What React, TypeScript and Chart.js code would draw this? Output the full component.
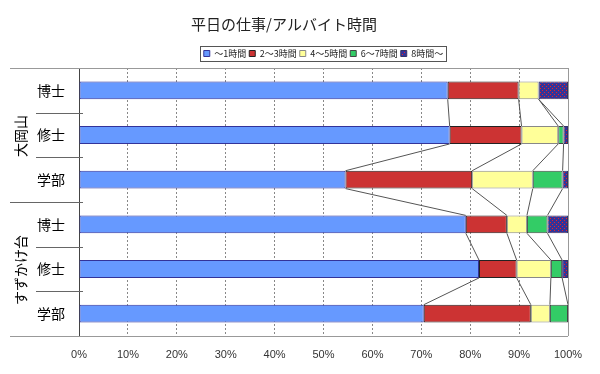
import React, { useEffect, useRef } from "react";
import { Chart, registerables } from "chart.js";

Chart.register(...registerables);

const titleText = "平日の仕事/アルバイト時間";
const groups = ["大岡山", "すずかけ台"];
const categories = ["博士", "修士", "学部", "博士", "修士", "学部"];
const seriesNames = ["～1時間", "2～3時間", "4～5時間", "6～7時間", "8時間～"];
const h0_1 = [75.4, 75.8, 54.5, 79.1, 81.8, 70.5];
const h2_3 = [14.5, 14.7, 25.9, 8.4, 7.7, 21.9];
const h4_5 = [4.1, 7.5, 12.4, 4.1, 7.0, 3.9];
const h6_7 = [0, 1.1, 6.1, 4.2, 2.3, 3.7];
const h8 = [6.0, 0.9, 1.1, 4.2, 1.2, 0];
const seriesValues = [h0_1, h2_3, h4_5, h6_7, h8];

const JP = "'Noto Sans CJK JP', 'Noto Sans', sans-serif";

function makeDotPattern(): CanvasPattern | string {
  const c = document.createElement("canvas");
  c.width = 4;
  c.height = 4;
  const g = c.getContext("2d");
  if (!g) return "#333399";
  g.fillStyle = "#333399";
  g.fillRect(0, 0, 4, 4);
  g.fillStyle = "#ee2222";
  g.fillRect(0, 0, 1, 1);
  g.fillRect(2, 2, 1, 1);
  const p = g.createPattern(c, "repeat");
  return p || "#333399";
}

const decorPlugin = {
  id: "decor",
  afterDatasetsDraw(chart: any) {
    const ctx = chart.ctx;
    const n = categories.length;
    ctx.save();
    ctx.strokeStyle = "#555";
    ctx.lineWidth = 1;
    for (let d = 0; d < seriesValues.length - 1; d++) {
      const meta = chart.getDatasetMeta(d);
      for (let i = 0; i < n - 1; i++) {
        const a = meta.data[i] as any;
        const b = meta.data[i + 1] as any;
        ctx.beginPath();
        ctx.moveTo(a.x, a.y + a.height / 2);
        ctx.lineTo(b.x, b.y - b.height / 2);
        ctx.stroke();
      }
    }
    ctx.restore();
  },
  afterDraw(chart: any) {
    const ctx = chart.ctx;
    const area = chart.chartArea;
    const y = chart.scales.y;
    const n = categories.length;
    ctx.save();
    ctx.lineWidth = 1;
    ctx.strokeStyle = "#999";
    ctx.beginPath();
    ctx.moveTo(10, Math.round(area.top) + 0.5);
    ctx.lineTo(area.right, Math.round(area.top) + 0.5);
    ctx.moveTo(10, Math.round(area.bottom) + 0.5);
    ctx.lineTo(area.right, Math.round(area.bottom) + 0.5);
    ctx.moveTo(Math.round(area.right) + 0.5, area.top);
    ctx.lineTo(Math.round(area.right) + 0.5, area.bottom);
    ctx.stroke();
    const per = n / groups.length;
    ctx.strokeStyle = "#666";
    for (let i = 0; i < n - 1; i++) {
      const yy = Math.round((y.getPixelForValue(i) + y.getPixelForValue(i + 1)) / 2) + 0.5;
      const isGroup = (i + 1) % per === 0;
      ctx.beginPath();
      ctx.moveTo(isGroup ? 10 : 36, yy);
      ctx.lineTo(area.left + 4, yy);
      ctx.stroke();
    }
    // group labels, rotated to read bottom-to-top
    ctx.fillStyle = "#000";
    ctx.font = `14px ${JP}`;
    ctx.textAlign = "center";
    ctx.textBaseline = "middle";
    groups.forEach((g, gi) => {
      const y0 = y.getPixelForValue(gi * per);
      const y1 = y.getPixelForValue(gi * per + per - 1);
      const cy = (y0 + y1) / 2 + 1;
      ctx.save();
      ctx.translate(21, cy);
      ctx.rotate(-Math.PI / 2);
      ctx.fillText(g, 0, 0);
      ctx.restore();
    });
    const lg = chart.legend;
    if (lg && lg.legendHitBoxes && lg.legendHitBoxes.length) {
      let l = Infinity, r = -Infinity, t = Infinity, b = -Infinity;
      lg.legendHitBoxes.forEach((h: any) => {
        l = Math.min(l, h.left);
        r = Math.max(r, h.left + h.width);
        t = Math.min(t, h.top);
        b = Math.max(b, h.top + h.height);
      });
      ctx.strokeStyle = "#555";
      ctx.strokeRect(Math.round(l - 4) + 0.5, Math.round(t - 3) + 0.5, Math.round(r - l + 7), Math.round(b - t + 6));
    }
    ctx.restore();
  },
};

export default function App() {
  const ref = useRef<HTMLCanvasElement | null>(null);
  useEffect(() => {
    if (!ref.current) return;
    const pattern = makeDotPattern();
    const fills = ["#6699ff", "#cc3333", "#ffff99", "#33cc66", pattern];
    const borders = ["#333399", "#222222", "#888888", "#444444", "#333366"];
    const chart = new Chart(ref.current, {
      type: "bar",
      data: {
        labels: categories,
        datasets: seriesNames.map((name, i) => ({
          label: name,
          data: seriesValues[i],
          backgroundColor: fills[i] as any,
          borderColor: borders[i],
          borderWidth: 1,
          borderSkipped: false,
          barPercentage: 0.4,
          categoryPercentage: 1,
        })),
      },
      options: {
        indexAxis: "y",
        responsive: false,
        animation: false,
        layout: { padding: { left: 0, right: 32, top: 0, bottom: 0 } },
        plugins: {
          title: {
            display: true,
            text: titleText,
            color: "#222",
            font: { family: JP, size: 15, weight: "normal" },
            padding: { top: 15, bottom: 13 },
          },
          legend: {
            display: true,
            position: "top",
            fullSize: false,
            labels: {
              boxWidth: 6,
              boxHeight: 6,
              padding: 3,
              color: "#222",
              font: { family: JP, size: 9 },
            },
          },
          tooltip: { enabled: false },
        },
        scales: {
          x: {
            type: "linear",
            stacked: true,
            min: 0,
            max: 100,
            ticks: {
              stepSize: 10,
              padding: 12,
              color: "#333",
              font: { family: "'Liberation Sans', Arial, sans-serif", size: 11 },
              callback: (v: any) => v + "%",
            },
            grid: {
              drawTicks: false,
              color: (c: any) =>
                c.tick && (c.tick.value === 0 || c.tick.value === 100) ? "rgba(0,0,0,0)" : "#888",
            },
            border: { display: false, dash: [2, 2] },
            afterFit: (s: any) => {
              s.height = 38;
            },
          },
          y: {
            type: "category",
            stacked: true,
            grid: { display: false, drawTicks: false },
            border: { display: true, color: "#444" },
            ticks: {
              padding: 14,
              color: "#000",
              font: { family: JP, size: 14 },
            },
            afterFit: (s: any) => {
              s.width = 79;
            },
          },
        },
      },
      plugins: [decorPlugin],
    } as any);
    return () => chart.destroy();
  }, []);
  return (
    <div style={{ position: "absolute", left: 0, top: 0, width: 600, height: 374, background: "#fff" }}>
      <canvas ref={ref} width={600} height={374} />
    </div>
  );
}
